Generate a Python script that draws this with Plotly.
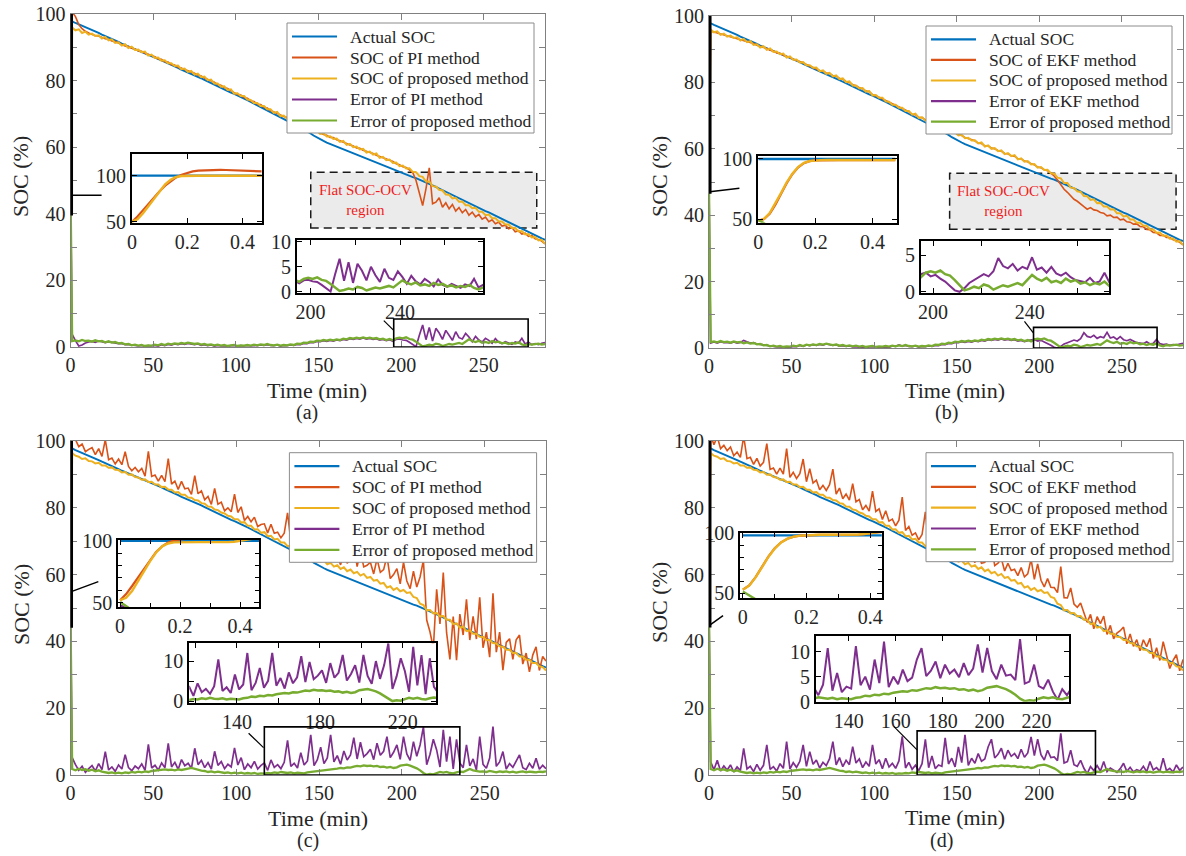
import plotly.graph_objects as go

SERIF = "Liberation Serif"
TXT = "#262626"
FRAME = "#808080"
W, H = 1186, 856

C_ACTUAL = "#0072BD"
C_METHOD = "#D95319"
C_PROPOSED = "#EDB120"
C_ERR_METHOD = "#7E2F8E"
C_ERR_PROPOSED = "#77AC30"

# ---------------------------------------------------------------------------
# Long-run series: first sample at t = 0 min, then every 2 min (t = 1, 3, ..., 287)
# ---------------------------------------------------------------------------
soc_actual = [98.2,
    97.8, 97.3, 96.9, 96.5, 96.0,   95.6, 95.2, 94.7, 94.3, 93.8,
    93.4, 92.9, 92.5, 92.0, 91.6,   91.1, 90.7, 90.2, 89.8, 89.4,
    88.9, 88.5, 88.1, 87.7, 87.3,   86.9, 86.5, 86.1, 85.6, 85.2,
    84.7, 84.2, 83.8, 83.3, 82.9,   82.4, 82.0, 81.6, 81.1, 80.7,
    80.2, 79.7, 79.2, 78.7, 78.2,   77.7, 77.2, 76.8, 76.4, 76.0,
    75.6, 75.1, 74.6, 74.1, 73.6,   73.1, 72.6, 72.1, 71.6, 71.1,
    70.6, 70.1, 69.6, 69.1, 68.6,   68.1, 67.5, 67.0, 66.4, 65.9,
    65.3, 64.8, 64.2, 63.5, 62.9,   62.3, 61.9, 61.4, 61.0, 60.6,
    60.1, 59.7, 59.3, 58.9, 58.5,   58.0, 57.6, 57.2, 56.8, 56.4,
    56.0, 55.6, 55.2, 54.8, 54.4,   54.0, 53.6, 53.2, 52.8, 52.5,
    52.2, 51.8, 51.4, 51.0, 50.7,   50.3, 49.9, 49.5, 49.0, 48.6,
    48.1, 47.6, 47.1, 46.6, 46.1,   45.6, 45.1, 44.6, 44.1, 43.6,
    43.1, 42.7, 42.2, 41.7, 41.3,   40.8, 40.4, 39.9, 39.4, 38.9,
    38.4, 37.9, 37.4, 36.9, 36.4,   35.9, 35.4, 34.9, 34.4, 33.9,
    33.4, 33.0, 32.6, 32.2]

# proposed estimator, constant-current profile (panels a, b)
soc_prop_ab = [50.0,
    95.9, 95.1, 95.4, 94.3, 94.7,   93.8, 94.1, 93.4, 93.6, 92.6,
    93.1, 92.1, 92.4, 91.3, 91.5,   90.5, 90.9, 89.8, 90.2, 89.2,
    89.3, 88.5, 88.7, 87.5, 87.8,   86.8, 86.9, 86.0, 86.1, 85.2,
    85.2, 84.4, 84.5, 83.4, 83.6,   82.6, 82.9, 81.8, 82.1, 81.0,
    81.2, 80.1, 80.3, 79.1, 79.1,   78.2, 78.3, 77.2, 77.4, 76.1,
    76.2, 75.4, 75.4, 74.3, 74.2,   73.3, 73.3, 72.4, 72.4, 71.4,
    71.4, 70.3, 70.6, 69.3, 69.5,   68.5, 68.6, 67.7, 67.7, 66.8,
    66.9, 65.8, 66.1, 64.8, 65.0,   64.0, 64.2, 63.2, 63.3, 62.5,
    62.6, 61.6, 61.9, 60.7, 61.0,   60.0, 60.2, 59.3, 59.5, 58.4,
    58.7, 57.8, 58.1, 56.8, 57.1,   56.1, 56.3, 55.3, 55.4, 54.3,
    54.5, 53.6, 53.7, 52.6, 52.5,   51.3, 51.1, 49.7, 49.7, 48.3,
    48.2, 47.2, 47.0, 45.8, 45.7,   44.6, 44.8, 43.6, 43.7, 42.6,
    42.6, 41.7, 41.8, 40.6, 40.6,   39.6, 39.8, 38.7, 38.7, 37.7,
    37.7, 36.8, 36.8, 35.7, 35.7,   34.7, 34.8, 33.8, 33.9, 32.9,
    33.0, 32.0, 32.2, 31.0]

soc_pi_a = [50.0,
    100.6, 99.2, 96.8, 95.6, 94.8,  94.3, 93.9, 93.5, 93.4, 92.9,
    92.6, 92.4, 91.9, 91.7, 91.2,   90.9, 90.4, 90.2, 89.7, 89.5,
    88.9, 88.8, 88.2, 87.9, 87.5,   87.2, 86.5, 86.4, 85.7, 85.6,
    84.8, 84.7, 84.0, 83.8, 83.3,   83.0, 82.5, 82.2, 81.7, 81.4,
    80.8, 80.4, 79.8, 79.5, 78.8,   78.6, 77.9, 77.6, 77.0, 76.5,
    75.8, 75.7, 74.9, 74.7, 73.9,   73.7, 72.9, 72.8, 72.0, 71.8,
    71.0, 70.6, 70.1, 69.7, 69.2,   68.9, 68.2, 68.1, 67.3, 67.2,
    66.5, 66.1, 65.6, 65.2, 64.7,   64.4, 63.8, 63.6, 62.9, 62.9,
    62.2, 61.9, 61.4, 61.1, 60.7,   60.4, 59.8, 59.7, 59.1, 58.8,
    58.3, 58.1, 57.6, 57.2, 56.8,   56.5, 55.9, 55.7, 55.0, 54.7,
    54.1, 53.9, 53.2, 52.4, 50.0,   46.0, 42.5, 47.5, 53.8, 43.0,
    43.5, 44.8, 42.0, 43.3, 41.5,   42.8, 40.8, 41.9, 40.3, 41.3,
    39.6, 40.5, 39.1, 39.8, 38.4,   39.0, 37.6, 38.2, 37.0, 37.5,
    36.3, 36.6, 35.5, 35.9, 34.6,   34.9, 33.9, 34.2, 33.2, 33.5,
    32.5, 32.3, 31.8, 31.0]

soc_ekf_b = [50.0,
    95.4, 95.2, 94.9, 94.7, 94.3,   94.2, 93.7, 93.6, 93.2, 93.0,
    92.6, 92.4, 91.9, 91.7, 91.2,   90.9, 90.4, 90.2, 89.7, 89.5,
    88.9, 88.8, 88.2, 87.9, 87.5,   87.0, 86.7, 86.2, 85.9, 85.4,
    85.0, 84.5, 84.2, 83.6, 83.5,   82.8, 82.7, 82.0, 81.9, 81.2,
    81.0, 80.2, 80.0, 79.3, 79.0,   78.4, 78.1, 77.4, 77.2, 76.3,
    76.0, 75.5, 75.1, 74.5, 74.1,   73.5, 73.1, 72.6, 72.2, 71.6,
    71.2, 70.4, 70.3, 69.5, 69.4,   68.7, 68.4, 67.9, 67.5, 67.0,
    66.7, 65.9, 65.8, 65.0, 64.9,   64.2, 64.0, 63.4, 63.1, 62.7,
    62.4, 61.7, 61.6, 60.9, 60.9,   60.2, 60.0, 59.5, 59.3, 58.6,
    58.5, 57.9, 57.8, 57.0, 57.0,   56.3, 56.1, 55.5, 55.2, 54.5,
    54.3, 53.7, 53.4, 52.7, 51.8,   50.6, 49.2, 47.8, 46.9, 45.9,
    44.8, 44.2, 43.5, 42.6, 41.8,   42.3, 41.6, 41.4, 40.8, 40.6,
    39.8, 40.0, 39.3, 39.4, 38.6,   38.8, 38.0, 37.9, 37.3, 37.4,
    36.6, 36.5, 35.7, 35.6, 34.8,   34.7, 33.9, 34.0, 33.3, 33.3,
    32.6, 32.4, 31.8, 31.1]

err_prop_ab = [48.0,
    1.8, 2.0, 1.7, 2.1, 1.8,   1.9, 1.6, 2.0, 1.7, 1.8,
    1.4, 1.7, 1.3, 1.5, 1.1,   1.2, 0.8, 0.9, 0.5, 0.7,
    0.4, 0.6, 0.3, 0.5, 0.4,   0.7, 0.5, 0.9, 0.6, 1.0,
    0.8, 1.1, 0.9, 1.2, 1.0,   1.3, 1.0, 0.9, 1.1, 0.7,
    0.9, 0.6, 0.8, 0.5, 0.7,   0.4, 0.6, 0.3, 0.5, 0.6,
    0.3, 0.5, 0.4, 0.6, 0.4,   0.7, 0.5, 0.8, 0.6, 0.9,
    0.6, 0.5, 0.7, 0.4, 0.6,   0.5, 0.8, 0.6, 1.0, 0.9,
    1.3, 1.2, 1.6, 1.5, 1.9,   1.8, 2.1, 1.9, 2.2, 2.0,
    2.3, 2.1, 2.5, 2.3, 2.7,   2.5, 2.8, 2.6, 2.9, 2.6,
    2.8, 2.5, 2.7, 2.3, 2.5,   2.1, 2.4, 2.0, 2.6, 2.8,
    2.6, 2.9, 2.4, 2.2, 1.6,   0.9, 0.2, 0.4, 0.7, 0.5,
    1.0, 0.8, 0.3, 0.6, 0.9,   0.7, 1.0, 1.2, 0.9, 1.6,
    2.3, 1.8, 1.5, 1.9, 1.3,   1.5, 1.2, 1.8, 1.4, 1.6,
    1.1, 1.3, 0.9, 1.2, 1.0,   1.4, 0.8, 0.5, 0.9, 0.7,
    0.8, 1.0, 0.7, 0.9]

err_pi_a = [48.0,
    3.8, 1.9, 0.3, 0.6, 1.2,   1.5, 1.7, 1.4, 1.8, 1.6,
    1.3, 1.6, 1.4, 1.2, 1.0,   1.1, 0.7, 0.8, 0.6, 0.5,
    0.3, 0.5, 0.2, 0.4, 0.3,   0.5, 0.3, 0.7, 0.4, 0.8,
    0.6, 0.9, 0.7, 1.0, 0.8,   1.1, 0.8, 0.7, 0.9, 0.5,
    0.7, 0.4, 0.6, 0.3, 0.5,   0.3, 0.4, 0.2, 0.4, 0.5,
    0.2, 0.4, 0.3, 0.5, 0.3,   0.5, 0.4, 0.6, 0.5, 0.7,
    0.5, 0.4, 0.6, 0.3, 0.5,   0.4, 0.6, 0.5, 0.8, 0.7,
    1.1, 1.0, 1.4, 1.3, 1.7,   1.6, 1.9, 1.7, 2.0, 1.8,
    2.1, 1.9, 2.3, 2.1, 2.5,   2.3, 2.6, 2.4, 2.7, 2.4,
    2.6, 2.3, 2.5, 2.1, 2.3,   1.9, 2.2, 1.7, 2.3, 2.4,
    2.1, 2.0, 1.4, 0.8, 0.1,   3.5, 6.6, 2.2, 5.9, 1.8,
    5.6, 4.2, 2.3, 5.0, 3.3,   2.0, 4.6, 2.8, 2.4, 4.1,
    3.0, 1.6, 3.2, 2.1, 1.5,   2.6, 2.0, 1.1, 2.5, 1.4,
    1.0, 1.6, 1.2, 0.8, 1.5,   1.2, 2.6, 0.9, 1.4, 0.7,
    1.0, 0.7, 1.1, 1.3]

err_ekf_b = [48.0,
    1.5, 1.8, 1.5, 1.9, 1.6,   1.7, 1.5, 1.8, 1.5, 1.7,
    2.3, 1.9, 1.5, 1.6, 1.2,   1.1, 0.9, 0.7, 0.6, 0.4,
    0.3, 0.4, 0.2, 0.3, 0.2,   0.5, 0.4, 0.8, 0.5, 0.9,
    0.7, 1.0, 0.8, 1.1, 0.9,   1.2, 0.9, 0.8, 1.0, 0.6,
    0.7, 0.5, 0.6, 0.3, 0.4,   0.2, 0.3, 0.1, 0.3, 0.4,
    0.2, 0.3, 0.4, 0.3, 0.2,   0.6, 0.5, 0.9, 0.6, 0.8,
    0.5, 0.4, 0.6, 0.3, 0.5,   0.4, 0.6, 0.5, 0.8, 0.7,
    1.1, 1.0, 1.4, 1.3, 1.7,   1.6, 1.9, 1.7, 2.0, 1.8,
    2.1, 1.9, 2.3, 2.1, 2.5,   2.3, 2.6, 2.4, 2.7, 2.4,
    2.6, 2.3, 2.5, 2.1, 2.3,   1.9, 2.2, 2.4, 2.6, 2.1,
    2.3, 1.8, 1.4, 0.8, 0.2,   0.0, 0.5, 1.2, 1.6, 1.9,
    2.4, 2.1, 2.8, 4.6, 3.5,   3.2, 3.8, 2.9, 3.4, 3.1,
    4.7, 3.0, 3.3, 2.6, 3.4,   2.5, 2.2, 2.6, 2.0, 1.6,
    1.5, 1.3, 1.9, 1.2, 1.4,   2.6, 1.3, 1.0, 1.2, 0.8,
    1.0, 0.9, 1.2, 1.4]

# proposed estimator, dynamic profile (panels c, d)
soc_prop_cd = [50.0,
    96.4, 95.6, 95.3, 94.6, 94.8,   94.0, 93.9, 93.3, 93.5, 92.7,
    92.7, 92.0, 92.1, 91.4, 91.3,   90.6, 90.7, 89.9, 90.0, 89.2,
    89.1, 88.4, 88.5, 87.7, 87.8,   87.0, 87.0, 86.2, 86.3, 85.5,
    85.4, 84.6, 84.7, 83.9, 83.9,   83.1, 83.0, 82.3, 82.2, 81.4,
    81.2, 80.4, 80.3, 79.5, 79.3,   78.6, 78.3, 77.6, 77.4, 76.6,
    76.6, 75.6, 75.7, 74.6, 74.6,   73.5, 73.6, 72.5, 72.7, 71.5,
    71.6, 70.5, 70.7, 69.6, 69.6,   68.5, 68.7, 67.5, 67.7, 66.5,
    66.8, 65.7, 66.0, 64.7, 64.9,   63.9, 64.2, 63.1, 63.5, 62.4,
    62.8, 61.7, 62.2, 61.0, 61.5,   60.4, 60.8, 59.7, 60.2, 59.0,
    59.3, 58.2, 58.4, 57.3, 57.5,   56.1, 56.5, 55.4, 56.0, 55.0,
    55.4, 54.5, 54.7, 53.3, 53.0,   51.3, 50.9, 49.3, 49.4, 48.4,
    48.5, 47.5, 47.6, 46.5, 46.5,   45.2, 45.4, 44.1, 44.4, 43.1,
    43.3, 42.3, 42.3, 41.4, 41.3,   40.4, 40.4, 39.5, 39.4, 38.5,
    38.4, 37.5, 37.5, 36.5, 36.5,   35.5, 35.5, 34.5, 34.5, 33.5,
    33.5, 32.5, 32.3, 31.3]

soc_pi_c = [50.0,
    103.0, 100.4, 98.3, 99.1, 96.8,  97.5, 98.0, 95.9, 97.7, 95.4,
    100.4, 94.4, 94.9, 93.1, 94.6,   92.9, 96.8, 92.4, 91.1, 92.1,
    90.8, 91.8, 89.5, 96.9, 89.4,    89.8, 88.0, 89.7, 87.8, 94.7,
    87.1, 88.0, 85.5, 87.9, 85.7,    85.9, 84.0, 89.6, 84.2, 85.1,
    82.4, 83.4, 81.0, 85.8, 81.1,    81.7, 79.1, 80.0, 78.8, 84.1,
    78.6, 80.3, 76.2, 77.4, 75.8,    77.2, 74.4, 75.0, 75.2, 72.5,
    75.1, 72.4, 72.7, 71.0, 72.4,    78.5, 70.1, 70.5, 68.5, 72.6,
    68.3, 69.0, 76.2, 66.3, 67.5,    70.6, 65.3, 66.5, 73.0, 64.5,
    65.9, 62.9, 66.5, 63.4, 64.5,    69.2, 62.4, 67.0, 62.3, 62.8,
    63.7, 60.2, 64.7, 60.7, 61.5,    65.5, 58.8, 60.0, 61.8, 57.2,
    63.7, 58.1, 55.8, 61.0, 56.3,    59.3, 64.3, 46.4, 42.8, 37.9,
    55.6, 45.2, 60.6, 42.6, 34.6,    47.4, 34.4, 48.2, 41.9, 52.6,
    40.4, 47.5, 40.7, 53.2, 38.1,    42.8, 35.3, 54.4, 36.8, 42.8,
    31.4, 39.7, 40.8, 34.6, 40.5,    41.9, 33.2, 36.5, 30.9, 35.9,
    38.4, 31.3, 35.5, 34.1]

soc_ekf_d = [50.0,
    101.7, 98.9, 101.3, 97.7, 98.7,  97.1, 98.2, 95.6, 96.7, 95.1,
    101.4, 94.7, 95.1, 93.0, 94.8,   92.5, 93.6, 99.2, 91.5, 91.9,
    90.1, 91.9, 90.1, 97.7, 89.1,    90.6, 88.8, 90.2, 94.6, 87.8,
    91.7, 87.4, 88.3, 85.4, 86.7,    85.2, 86.9, 91.6, 84.1, 85.9,
    82.7, 84.1, 82.3, 87.2, 81.8,    82.5, 79.4, 80.7, 79.0, 85.0,
    78.9, 79.7, 76.5, 79.1, 76.0,    76.6, 74.6, 76.3, 83.2, 73.2,
    74.4, 71.8, 72.5, 70.4, 72.0,    78.8, 69.7, 72.7, 68.3, 68.9,
    67.9, 75.9, 67.5, 68.5, 65.3,    70.7, 65.6, 73.4, 63.9, 65.6,
    63.6, 66.1, 63.4, 63.7, 66.9,    68.7, 62.7, 63.4, 64.8, 61.1,
    63.4, 61.2, 61.6, 59.7, 62.1,    59.3, 60.2, 64.6, 58.6, 63.2,
    58.3, 56.3, 58.8, 56.2, 56.1,    54.6, 62.4, 53.1, 53.0, 56.0,
    51.2, 50.2, 51.5, 48.6, 45.7,    48.1, 43.8, 47.4, 45.3, 47.6,
    42.1, 44.8, 40.8, 42.5, 43.2,    44.3, 39.3, 42.2, 38.5, 40.5,
    37.2, 40.5, 38.4, 40.9, 34.9,    38.1, 34.3, 39.9, 35.7, 31.9,
    34.3, 36.0, 31.2, 34.6]

err_prop_cd = [48.0,
    1.8, 1.4, 1.9, 1.5, 1.7,   1.3, 1.6, 1.1, 1.4, 1.0,
    0.9, 0.6, 0.8, 0.5, 0.7,   0.5, 0.8, 0.6, 0.9, 0.7,
    1.0, 0.8, 1.1, 0.9, 1.2,   1.3, 1.5, 1.4, 1.7, 1.5,
    1.6, 1.4, 1.7, 1.5, 1.8,   1.9, 2.1, 1.8, 1.6, 1.3,
    1.2, 0.9, 1.1, 0.8, 1.0,   0.8, 0.6, 0.8, 0.5, 0.7,
    0.5, 0.7, 0.4, 0.6, 0.4,   0.6, 0.3, 0.5, 0.4, 0.6,
    0.5, 0.8, 0.6, 0.9, 0.7,   0.6, 0.8, 0.5, 0.7, 0.6,
    0.5, 0.8, 0.9, 1.2, 1.1,   1.4, 1.3, 1.6, 1.5, 1.8,
    1.9, 2.1, 2.0, 2.3, 2.2,   2.5, 2.7, 2.6, 2.9, 2.7,
    2.8, 2.6, 2.7, 2.4, 2.5,   2.2, 2.4, 2.1, 2.3, 2.8,
    2.9, 3.1, 2.8, 2.5, 2.0,   1.4, 0.6, 0.1, 0.3, 0.2,
    0.6, 0.9, 0.7, 0.9, 0.6,   0.5, 0.8, 1.0, 0.9, 1.3,
    1.8, 1.4, 1.2, 1.0, 1.1,   0.9, 1.2, 1.0, 0.8, 1.1,
    0.9, 1.1, 0.8, 1.0, 0.7,   0.9, 1.1, 0.8, 1.0, 0.9,
    0.8, 1.0, 0.9, 1.1]

err_pi_c = [48.0,
    5.2, 3.1, 1.4, 2.6, 0.8,    1.9, 2.8, 1.2, 3.4, 1.6,
    7.0, 1.5, 2.4, 1.1, 3.0,    1.8, 6.1, 2.2, 1.3, 2.7,
    1.9, 3.3, 1.4, 9.2, 2.1,    2.9, 1.5, 3.6, 2.2, 9.5,
    2.4, 3.8, 1.7, 4.6, 2.8,    3.5, 2.0, 8.0, 3.1, 4.4,
    2.2, 3.7, 1.8, 7.1, 2.9,    4.0, 1.9, 3.2, 2.4, 8.1,
    3.0, 5.2, 1.6, 3.3, 2.2,    4.1, 1.8, 2.9, 3.6, 1.4,
    4.5, 2.3, 3.1, 1.9, 3.8,    10.4, 2.6, 3.5, 2.1, 6.7,
    3.0, 4.2, 12.0, 2.8, 4.6,   8.3, 3.4, 5.1, 12.0, 3.9,
    5.8, 3.2, 7.2, 4.5, 6.0,    11.2, 4.8, 9.8, 5.5, 6.4,
    7.7, 4.6, 9.5, 5.9, 7.1,    11.5, 5.2, 6.8, 9.0, 4.7,
    11.5, 6.3, 4.4, 10.0, 5.6,  9.0, 14.4, 3.1, 6.2, 10.7,
    7.5, 2.4, 13.5, 4.0, 11.5,  1.8, 10.7, 3.6, 2.2, 9.0,
    2.7, 4.8, 1.5, 11.5, 3.2,   2.0, 5.1, 14.5, 2.6, 3.9,
    7.0, 1.8, 3.4, 2.3, 4.1,    6.0, 2.2, 1.6, 3.5, 2.0,
    5.0, 1.7, 2.9, 1.9]

err_ekf_d = [48.0,
    3.9, 1.6, 4.4, 1.2, 2.7,    1.5, 3.0, 0.9, 2.4, 1.3,
    8.0, 1.8, 2.6, 1.0, 3.2,    1.4, 2.9, 9.0, 1.7, 2.5,
    1.2, 3.4, 2.0, 10.0, 1.8,   3.7, 2.3, 4.1, 9.0, 2.6,
    7.0, 3.2, 4.5, 2.1, 3.8,    2.8, 4.9, 10.0, 3.0, 5.2,
    2.5, 4.4, 3.1, 8.5, 3.6,    4.8, 2.2, 3.9, 2.6, 9.0,
    3.3, 4.6, 1.9, 5.0, 2.4,    3.5, 2.0, 4.2, 11.6, 2.1,
    3.8, 1.7, 2.9, 1.3, 3.4,    10.7, 2.2, 5.7, 1.9, 3.0,
    2.6, 11.1, 3.3, 5.0, 2.4,   8.4, 3.7, 12.0, 2.9, 5.0,
    3.5, 6.4, 4.1, 4.8, 8.4,    10.7, 5.1, 6.2, 8.0, 4.7,
    7.4, 5.6, 6.4, 4.9, 7.7,    5.3, 6.6, 11.4, 5.8, 10.7,
    6.1, 4.5, 7.4, 5.2, 5.4,    4.3, 12.5, 3.6, 4.0, 7.4,
    3.1, 2.6, 4.4, 2.0, 0.4,    2.5, 1.3, 2.8, 1.2, 4.0,
    1.0, 2.1, 1.4, 0.8, 1.9,    3.5, 1.1, 2.3, 0.9, 1.6,
    1.2, 2.6, 1.0, 4.0, 1.5,    2.2, 1.1, 5.0, 1.3, 2.0,
    0.9, 3.0, 1.4, 2.4]

# ---------------------------------------------------------------------------
# Start-up transient (first half minute, min)
# ---------------------------------------------------------------------------
conv_time = [0.00, 0.02, 0.04, 0.06, 0.08, 0.10, 0.12, 0.14, 0.16, 0.18,
             0.20, 0.22, 0.24, 0.26, 0.28, 0.30, 0.32, 0.34, 0.36, 0.38,
             0.40, 0.42, 0.44, 0.46, 0.48]
conv_flat_time = [0.00, 0.48]

conv_actual_a = [100.0, 100.0]
conv_pi_a = [50.0, 55.5, 62.5, 69.5, 76.5, 83.0, 89.0, 94.0, 98.0, 101.0,
             103.2, 104.6, 105.4, 105.8, 106.0, 106.1, 106.2, 106.1, 106.0, 105.8,
             105.7, 105.4, 105.1, 104.8, 104.5]
conv_prop_a = [50.0, 52.5, 59.0, 67.0, 75.5, 83.5, 90.5, 95.5, 98.5, 99.6,
               99.9, 100.0, 99.9, 99.9, 99.9, 99.8, 99.9, 99.9, 99.8, 99.9,
               99.9, 99.8, 99.9, 99.9, 99.9]

conv_actual_b = [100.0, 100.0]
conv_ekf_b = [48.5, 50.0, 54.5, 62.0, 71.0, 80.0, 87.5, 93.0, 96.5, 98.2,
              98.8, 99.0, 99.0, 99.0, 99.1, 99.0, 99.0, 99.1, 99.0, 99.0,
              99.1, 99.0, 99.0, 99.0, 99.0]
conv_prop_b = [48.5, 50.2, 55.0, 62.8, 71.8, 80.8, 88.0, 93.4, 96.8, 98.3,
               98.9, 99.0, 99.1, 99.1, 99.0, 99.1, 99.1, 99.0, 99.1, 99.1,
               99.0, 99.1, 99.1, 99.0, 99.0]
conv_err_prop_b = [49.5, 47.0, 43.5]

conv_actual_c = [100.0, 100.0]
conv_pi_c = [52.0, 57.0, 63.5, 70.5, 78.0, 85.0, 91.0, 95.5, 98.5, 100.3,
             101.2, 101.6, 101.8, 101.8, 101.8, 101.9, 101.8, 101.8, 101.9, 101.8,
             101.8, 101.9, 101.8, 101.8, 101.8]
conv_prop_c = [52.0, 54.0, 59.5, 67.0, 75.5, 83.5, 90.5, 95.5, 97.8, 98.7,
               98.9, 98.9, 98.8, 98.9, 98.9, 98.8, 98.9, 98.9, 98.9, 99.2,
               100.2, 101.0, 101.5, 101.8, 102.0]
conv_err_pi_c = [48.0, 46.0, 43.0]
conv_err_prop_c = [50.5, 47.5, 44.0]

conv_actual_d = [98.3, 98.3]
conv_ekf_d = [53.0, 56.5, 63.5, 72.0, 80.5, 87.5, 92.5, 95.5, 97.2, 98.0,
              98.4, 98.6, 98.7, 98.7, 98.7, 98.6, 98.7, 98.7, 98.8, 99.3,
              100.2, 100.8, 101.2, 101.5, 101.8]
conv_prop_d = [53.0, 56.3, 63.2, 71.8, 80.3, 87.3, 92.4, 95.5, 97.2, 98.1,
               98.5, 98.7, 98.8, 98.8, 98.8, 98.7, 98.8, 98.8, 98.9, 99.4,
               100.3, 100.9, 101.3, 101.6, 101.9]
conv_err_prop_d = [51.5, 48.5, 45.0]


def minutes(values):
    """Sample times of a long-run series: 0, then 1, 3, 5, ... min."""
    return [0] + [1 + 2 * k for k in range(len(values) - 1)]


# ---------------------------------------------------------------------------
# Panel layout (pixel boxes: left, top, right, bottom)
# ---------------------------------------------------------------------------
panels = [
    dict(method="PI", est=soc_pi_a, prop=soc_prop_ab, err=err_pi_a, err_prop=err_prop_ab,
         conv=dict(actual=conv_actual_a, est=conv_pi_a, prop=conv_prop_a, err=None, err_prop=None),
         main=(70.5, 14, 545, 347),
         ins1=(132, 154, 261.5, 223), ins1_x=[0, 0.469], ins1_y=[48.5, 123.5], ins1_minor=False,
         ins2=(297, 240, 483, 293), ins2_x=[194, 277], ins2_y=[-0.2, 10.3],
         ins2_xtick=(200, 40, 20), ins2_ytick=(5, None),
         legend=(287, 23, 534, 133), bar_y=(40, 100), bar_link=((0.47, 45.6), (18.8, 45.6)),
         zoom=((195.5, 276.8), (0, 8.4)), zoom_link=((189.5, 7.9), (195.5, 5.0)),
         flat=((145.3, 282.0), (35.7, 52.5), (178.6, 44.2)),
         ylab=(21, 177), xlab=(317, 390), tag=("(a)", 307, 413)),
    dict(method="EKF", est=soc_ekf_b, prop=soc_prop_ab, err=err_ekf_b, err_prop=err_prop_ab,
         conv=dict(actual=conv_actual_b, est=conv_ekf_b, prop=conv_prop_b, err=None, err_prop=conv_err_prop_b),
         main=(709, 16, 1183, 348),
         ins1=(758.3, 155.7, 896.7, 222.7), ins1_x=[0, 0.485], ins1_y=[47, 102.7], ins1_minor=False,
         ins2=(921, 240.7, 1109.3, 293.3), ins2_x=[195, 273], ins2_y=[-0.2, 6.95],
         ins2_xtick=(200, 40, 20), ins2_ytick=(5, None),
         legend=(926, 26, 1172, 134), bar_y=(47, 100), bar_link=((0.47, 47.1), (18.4, 48.1)),
         zoom=((196.5, 271.3), (0, 6.2)), zoom_link=((191, 8.0), (196.5, 4.5)),
         flat=((145.7, 282.8), (35.8, 52.6), (178.2, 44.2)),
         ylab=(660, 177), xlab=(955, 390), tag=("(b)", 946, 413)),
    dict(method="PI", est=soc_pi_c, prop=soc_prop_cd, err=err_pi_c, err_prop=err_prop_cd,
         conv=dict(actual=conv_actual_c, est=conv_pi_c, prop=conv_prop_c, err=conv_err_pi_c, err_prop=conv_err_prop_c),
         main=(70.5, 441, 546, 775),
         ins1=(118.3, 540, 259.3, 607.3), ins1_x=[-0.006, 0.464], ins1_y=[46.3, 100.6], ins1_minor=True,
         ins2=(189.3, 643.3, 436, 702.7), ins2_x=[117, 236], ins2_y=[-0.3, 14.4],
         ins2_xtick=(140, 40, 20), ins2_ytick=(10, 5),
         legend=(289.4, 452.7, 536.6, 562.3), bar_y=(44.6, 100), bar_link=((0.47, 54.9), (16.8, 57.9)),
         zoom=((117, 235), (0, 14.4)), zoom_link=((107.5, 12.5), (116.5, 8.2)),
         flat=None,
         ylab=(21, 605), xlab=(318, 818), tag=("(c)", 307.5, 840)),
    dict(method="EKF", est=soc_ekf_d, prop=soc_prop_cd, err=err_ekf_d, err_prop=err_prop_cd,
         conv=dict(actual=conv_actual_d, est=conv_ekf_d, prop=conv_prop_d, err=None, err_prop=conv_err_prop_d),
         main=(709, 441, 1183, 775),
         ins1=(740.3, 532.7, 881.8, 598.3), ins1_x=[-0.008, 0.436], ins1_y=[45.8, 100.5], ins1_minor=True,
         ins2=(816, 636, 1069.3, 701.7), ins2_x=[126, 234], ins2_y=[0, 13.1],
         ins2_xtick=(140, 20, None), ins2_ytick=(5, None),
         legend=(926, 452.7, 1173, 561.7), bar_y=(44.7, 100), bar_link=((0.47, 44.9), (8.5, 47.7)),
         zoom=((126, 234), (0, 13.2)), zoom_link=((112, 14.5), (126, 7.5)),
         flat=None,
         ylab=(659, 603), xlab=(955, 817), tag=("(d)", 942, 840)),
]


def dom_x(box):
    return [box[0] / W, box[2] / W]


def dom_y(box):
    return [1 - box[3] / H, 1 - box[1] / H]


def px(x):
    return x / W


def py(y):
    return 1 - y / H


def xr(n):
    return "x" if n == 1 else f"x{n}"


def yr(n):
    return "y" if n == 1 else f"y{n}"


def xname(n):
    return "xaxis" if n == 1 else f"xaxis{n}"


def yname(n):
    return "yaxis" if n == 1 else f"yaxis{n}"


tick_font = dict(family=SERIF, size=20, color=TXT)
main_frame = dict(showline=True, linecolor=FRAME, linewidth=1, mirror="ticks",
                  ticks="inside", ticklen=6, tickcolor=FRAME, tickwidth=1,
                  showgrid=False, zeroline=False, tickfont=tick_font, automargin=False)
inset_frame = dict(showline=True, linecolor="black", linewidth=2, mirror="ticks",
                   ticks="inside", ticklen=5, tickcolor="black", tickwidth=1,
                   showgrid=False, zeroline=False, tickfont=tick_font, automargin=False)

fig = go.Figure()
layout = dict(width=W, height=H, margin=dict(l=0, r=0, t=0, b=0),
              paper_bgcolor="white", plot_bgcolor="white", template="none",
              font=dict(family=SERIF, color=TXT), showlegend=False)
shapes, annotations = [], []


def add_line(n, x, y, color, width, name=None):
    fig.add_trace(go.Scatter(
        x=x, y=y, mode="lines", name=name, xaxis=xr(n), yaxis=yr(n),
        line=dict(color=color, width=width), showlegend=False, hoverinfo="skip"))


def add_legend(box, entries):
    """Boxed legend: line sample + label for each entry."""
    x0, y0, x1, y1 = box
    shapes.append(dict(type="rect", xref="paper", yref="paper",
                       x0=px(x0), x1=px(x1), y0=py(y1), y1=py(y0), layer="above",
                       fillcolor="white", line=dict(color="#8c8c8c", width=1)))
    step = (y1 - y0 - 5) / len(entries)
    for k, (label, color) in enumerate(entries):
        yc = y0 + 3 + step * (k + 0.5)
        shapes.append(dict(type="line", xref="paper", yref="paper",
                           x0=px(x0 + 5), x1=px(x0 + 50), y0=py(yc), y1=py(yc),
                           layer="above", line=dict(color=color, width=2.2)))
        annotations.append(dict(xref="paper", yref="paper", x=px(x0 + 61), y=py(yc),
                                text=label, showarrow=False, xanchor="left", yanchor="middle",
                                font=dict(family=SERIF, size=17.5, color=TXT)))


for i, p in enumerate(panels):
    m, a1, a2 = 3 * i + 1, 3 * i + 2, 3 * i + 3

    # ---------- main axes ----------
    series = [
        (soc_actual, C_ACTUAL, 1.9, "Actual SOC"),
        (p["est"], C_METHOD, 1.6, f"SOC of {p['method']} method"),
        (p["prop"], C_PROPOSED, 2.0, "SOC of proposed method"),
        (p["err"], C_ERR_METHOD, 1.7, f"Error of {p['method']} method"),
        (p["err_prop"], C_ERR_PROPOSED, 2.3, "Error of proposed method"),
    ]
    for vals, col, wid, label in series:
        add_line(m, minutes(vals), vals, col, wid, label)

    layout[xname(m)] = dict(domain=dom_x(p["main"]), anchor=yr(m), range=[0, 287],
                            tick0=0, dtick=50, **main_frame)
    layout[yname(m)] = dict(domain=dom_y(p["main"]), anchor=xr(m), range=[0, 100],
                            tick0=0, dtick=20,
                            minor=dict(dtick=10, ticks="inside", ticklen=6, tickcolor=FRAME),
                            **main_frame)

    # ---------- start-up inset ----------
    c = p["conv"]
    add_line(a1, conv_flat_time, c["actual"], C_ACTUAL, 2.4)
    add_line(a1, conv_time, c["est"], C_METHOD, 2.2)
    add_line(a1, conv_time, c["prop"], C_PROPOSED, 2.4)
    if c["err"] is not None:
        add_line(a1, conv_time[:len(c["err"])], c["err"], C_ERR_METHOD, 2.2)
    if c["err_prop"] is not None:
        add_line(a1, conv_time[:len(c["err_prop"])], c["err_prop"], C_ERR_PROPOSED, 2.4)

    x1 = dict(domain=dom_x(p["ins1"]), anchor=yr(a1), range=p["ins1_x"], tick0=0, dtick=0.2,
              **inset_frame)
    y1 = dict(domain=dom_y(p["ins1"]), anchor=xr(a1), range=p["ins1_y"], tick0=0, dtick=50,
              **inset_frame)
    if p["ins1_minor"]:
        x1["minor"] = dict(dtick=0.1, ticks="inside", ticklen=4, tickcolor="black")
        y1["minor"] = dict(dtick=10, ticks="inside", ticklen=4, tickcolor="black")
    layout[xname(a1)] = x1
    layout[yname(a1)] = y1

    # ---------- error zoom inset ----------
    add_line(a2, minutes(p["err"]), p["err"], C_ERR_METHOD, 2.0)
    add_line(a2, minutes(p["err_prop"]), p["err_prop"], C_ERR_PROPOSED, 2.5)
    t0, dt, mdt = p["ins2_xtick"]
    x2 = dict(domain=dom_x(p["ins2"]), anchor=yr(a2), range=p["ins2_x"], tick0=t0, dtick=dt,
              **inset_frame)
    if mdt:
        x2["minor"] = dict(dtick=mdt, tick0=t0, ticks="inside", ticklen=5, tickcolor="black")
    ydt, ymdt = p["ins2_ytick"]
    y2 = dict(domain=dom_y(p["ins2"]), anchor=xr(a2), range=p["ins2_y"], tick0=0, dtick=ydt,
              **inset_frame)
    if ymdt:
        y2["minor"] = dict(dtick=ymdt, ticks="inside", ticklen=5, tickcolor="black")
    layout[xname(a2)] = x2
    layout[yname(a2)] = y2

    # ---------- zoom markers on the main axes ----------
    shapes.append(dict(type="rect", xref=xr(m), yref=yr(m), x0=0, x1=p["ins1_x"][1],
                       y0=p["bar_y"][0], y1=p["bar_y"][1], layer="above",
                       fillcolor="#555555", line=dict(color="black", width=3.5)))
    (bx0, by0), (bx1, by1) = p["bar_link"]
    shapes.append(dict(type="line", xref=xr(m), yref=yr(m), x0=bx0, y0=by0, x1=bx1, y1=by1,
                       layer="above", line=dict(color="black", width=1.5)))
    (zx0, zx1), (zy0, zy1) = p["zoom"]
    shapes.append(dict(type="rect", xref=xr(m), yref=yr(m), x0=zx0, x1=zx1, y0=zy0, y1=zy1,
                       layer="above", line=dict(color="black", width=1.6)))
    (lx0, ly0), (lx1, ly1) = p["zoom_link"]
    shapes.append(dict(type="line", xref=xr(m), yref=yr(m), x0=lx0, y0=ly0, x1=lx1, y1=ly1,
                       layer="above", line=dict(color="black", width=1.2)))

    # ---------- flat SOC-OCV region ----------
    if p["flat"] is not None:
        (fx0, fx1), (fy0, fy1), (tx, ty) = p["flat"]
        shapes.append(dict(type="rect", xref=xr(m), yref=yr(m), x0=fx0, x1=fx1, y0=fy0, y1=fy1,
                           layer="below", fillcolor="#ebebeb",
                           line=dict(color="#1a1a1a", width=1.5, dash="8px,5px")))
        annotations.append(dict(xref=xr(m), yref=yr(m), x=tx, y=ty, showarrow=False,
                                text="Flat SOC-OCV<br>region", align="center",
                                font=dict(family=SERIF, size=15, color="#ee1c1c")))

    # ---------- legend ----------
    add_legend(p["legend"], [(label, col) for _, col, _, label in series])

    # ---------- axis titles and panel tag ----------
    yx, yy = p["ylab"]
    annotations.append(dict(xref="paper", yref="paper", x=px(yx), y=py(yy),
                            text="SOC (%)", textangle=-90, showarrow=False,
                            xanchor="center", yanchor="middle",
                            font=dict(family=SERIF, size=22, color=TXT)))
    tx_, ty_ = p["xlab"]
    annotations.append(dict(xref="paper", yref="paper", x=px(tx_), y=py(ty_),
                            text="Time (min)", showarrow=False,
                            xanchor="center", yanchor="middle",
                            font=dict(family=SERIF, size=22, color=TXT)))
    tag, gx, gy = p["tag"]
    annotations.append(dict(xref="paper", yref="paper", x=px(gx), y=py(gy),
                            text=tag, showarrow=False, xanchor="center", yanchor="middle",
                            font=dict(family=SERIF, size=20, color=TXT)))

layout["shapes"] = shapes
layout["annotations"] = annotations
fig.update_layout(**layout)
fig.write_html("out.html", config=dict(displayModeBar=False))
